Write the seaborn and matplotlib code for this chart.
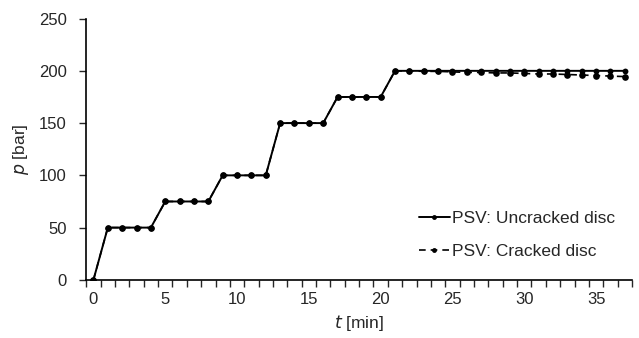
import numpy as np
import pandas as pd
import matplotlib
matplotlib.use("Agg")
import matplotlib.pyplot as plt
import seaborn as sns

# dados
tempo = list(range(0, 38))
p_intacto = [0, 50, 50, 50, 50, 75, 75, 75, 75, 100, 100, 100, 100,
             150, 150, 150, 150, 175, 175, 175, 175,
             200, 200, 200, 200, 200, 200, 200, 200, 200, 200, 200, 200,
             200, 200, 200, 200, 200]
p_trincado = [0, 50, 50, 50, 50, 75, 75, 75, 75, 100, 100, 100, 100,
              150, 150, 150, 150, 175, 175, 175, 175,
              200, 200, 199.5, 199.5, 199, 198.5, 198.5, 198, 198, 197.5,
              197, 197, 196.5, 196, 195.5, 195, 194.5]
x_ticks = [0, 5, 10, 15, 20, 25, 30, 35]
y_ticks = [0, 50, 100, 150, 200, 250]

sns.set_style("white")
plt.rcParams['font.family'] = ['Liberation Sans', 'DejaVu Sans']

fig = plt.figure(figsize=(6.39, 3.38), dpi=100)
ax = fig.add_axes([0.135, 0.172, 0.854, 0.773])

sns.lineplot(x=tempo, y=p_intacto, ax=ax, color='black', linewidth=1.4,
             marker='o', markersize=4.2, markeredgewidth=0,
             label='PSV: Uncracked disc')
sns.lineplot(x=tempo, y=p_trincado, ax=ax, color='black', linewidth=1.2,
             linestyle=(0, (4, 3)), marker='o', markersize=4.8, markeredgewidth=0,
             label='PSV: Cracked disc')

ax.set_xlim(-0.5, 37.5)
ax.set_ylim(0, 250)
ax.set_xticks(x_ticks)
ax.set_xticks(np.arange(-0.5, 38, 1), minor=True)
ax.set_yticks(y_ticks)
ax.tick_params(axis='x', which='major', length=0, labelsize=12, pad=9)
ax.tick_params(axis='x', which='minor', length=5, width=1, direction='out', bottom=True)
ax.tick_params(axis='y', length=5, width=1, direction='out', left=True, labelsize=12, pad=9)

for s in ['top', 'right']:
    ax.spines[s].set_visible(False)
for s in ['left', 'bottom']:
    ax.spines[s].set_color('black')
    ax.spines[s].set_linewidth(1.2)

ax.set_xlabel('$\\it{t}$ [min]', fontsize=12.5, labelpad=4)
ax.set_ylabel('$\\it{p}$ [bar]', fontsize=12.5, labelpad=6)

leg = ax.legend(loc='lower right', bbox_to_anchor=(0.997, 0.02), frameon=False,
                fontsize=12.5, handlelength=1.8, handletextpad=0.1, labelspacing=1.0)
for h in leg.legend_handles:
    h.set_markersize(3.5)

fig.savefig('out.png', dpi=100)
